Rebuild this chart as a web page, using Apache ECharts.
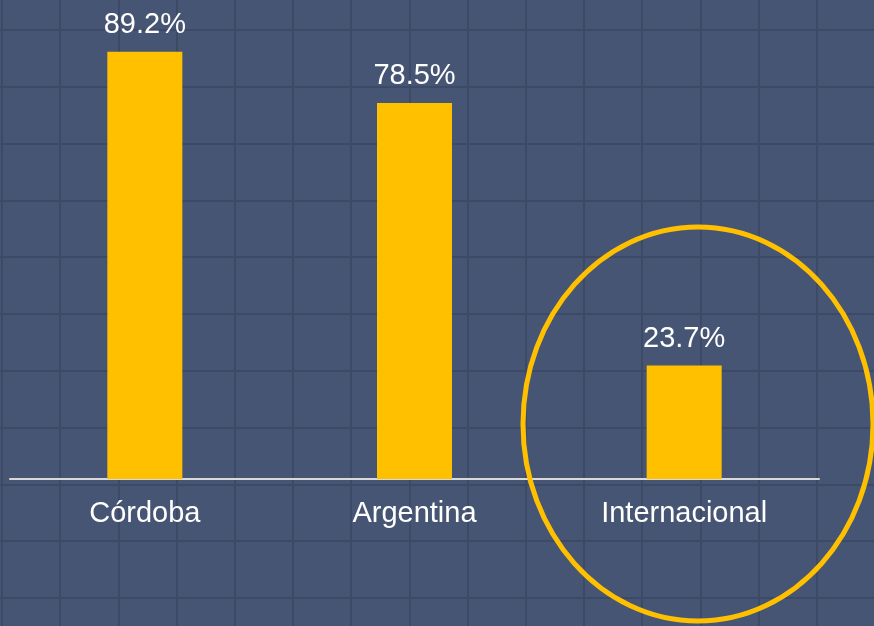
<!DOCTYPE html>
<html>
<head>
<meta charset="utf-8">
<script src="https://cdn.jsdelivr.net/npm/echarts@6/dist/echarts.min.js"></script>
<style>
  html, body { margin: 0; padding: 0; background: #465573; }
  #main { width: 874px; height: 626px; }
</style>
</head>
<body>
<div id="main"></div>
<script>
// datos del gráfico
var categorias = ['Córdoba', 'Argentina', 'Internacional'];
var valores = [89.2, 78.5, 23.7];

var chart = echarts.init(document.getElementById('main'));

var option = {
  backgroundColor: '#465573',
  animation: false,
  textStyle: { fontFamily: 'Liberation Sans, Arial, sans-serif' },
  grid: [
    // grafico principal
    { left: 10, right: 55, top: 0, bottom: 147, outerBoundsMode: 'none' },
    // cuadricula de fondo (cubre todo el lienzo)
    { left: -56.2, width: 58.2 * 17, top: -26.8, height: 56.8 * 13, outerBoundsMode: 'none' }
  ],
  xAxis: [
    {
      type: 'category',
      gridIndex: 0,
      data: categorias,
      axisLine: { lineStyle: { color: '#D9D9D9', width: 2 } },
      axisTick: { show: false },
      axisLabel: { color: '#FFFFFF', fontSize: 29, margin: 20 }
    },
    {
      type: 'value', gridIndex: 1, min: 0, max: 17, interval: 1,
      axisLine: { show: false }, axisTick: { show: false }, axisLabel: { show: false },
      splitLine: { show: true, lineStyle: { color: '#3D4A66', width: 2 } }
    }
  ],
  yAxis: [
    { type: 'value', gridIndex: 0, min: 0, max: 100, show: false },
    {
      type: 'value', gridIndex: 1, min: 0, max: 13, interval: 1,
      axisLine: { show: false }, axisTick: { show: false }, axisLabel: { show: false },
      splitLine: { show: true, lineStyle: { color: '#3D4A66', width: 2 } }
    }
  ],
  series: [
    {
      type: 'bar',
      xAxisIndex: 0,
      yAxisIndex: 0,
      data: valores,
      barWidth: 75,
      itemStyle: { color: '#FFC000' },
      label: {
        show: true,
        position: 'top',
        distance: 12,
        color: '#FFFFFF',
        fontSize: 29,
        formatter: function (p) { return p.value.toFixed(1) + '%'; }
      }
    }
  ],
  graphic: [
    {
      type: 'ellipse',
      z: 100,
      shape: { cx: 698, cy: 424, rx: 175, ry: 197 },
      style: { fill: 'none', stroke: '#FFC000', lineWidth: 5 }
    }
  ]
};

chart.setOption(option);
</script>
</body>
</html>
